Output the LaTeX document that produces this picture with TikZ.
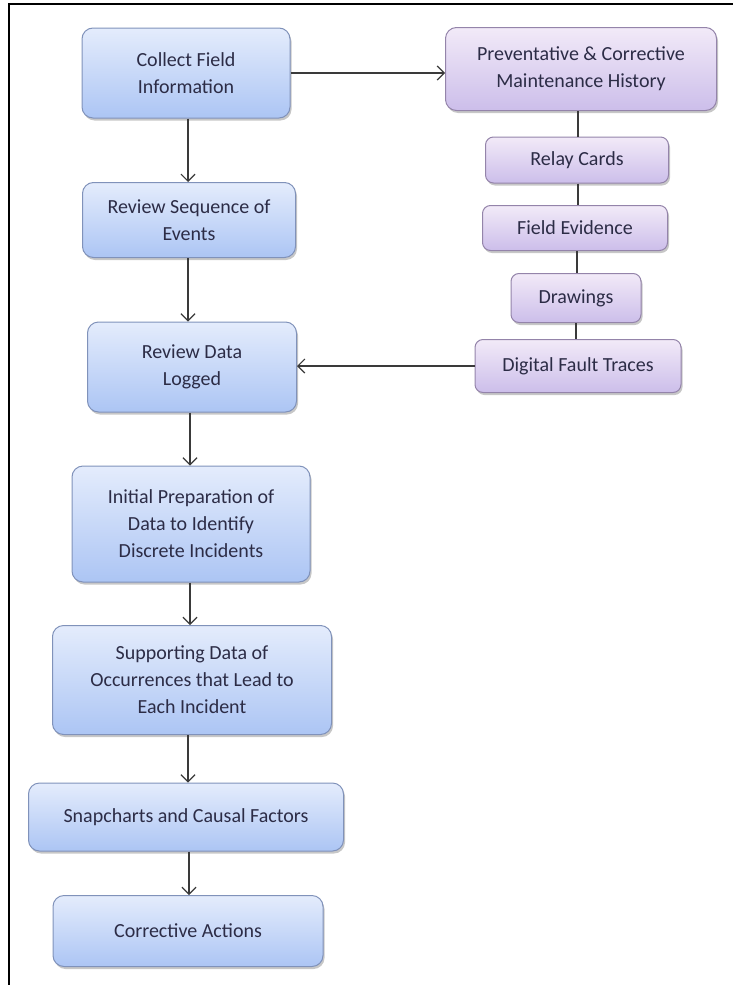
\documentclass[tikz,border=0pt]{standalone}
\usepackage{fontspec}
\setmainfont{Carlito}
\usetikzlibrary{arrows.meta,shadows}

\definecolor{bluetop}{RGB}{228,236,252}
\definecolor{bluebot}{RGB}{172,197,244}
\definecolor{blueline}{RGB}{128,146,186}
\definecolor{purptop}{RGB}{242,234,248}
\definecolor{purpbot}{RGB}{204,190,234}
\definecolor{purpline}{RGB}{148,132,170}
\definecolor{inktext}{RGB}{44,44,70}
\definecolor{wire}{RGB}{58,58,58}

\tikzset{
  box/.style={rounded corners=11pt, inner sep=0pt, align=center,
    font=\fontsize{20}{27}\selectfont, text=inktext, line width=1pt,
    drop shadow={shadow xshift=1.5pt, shadow yshift=-2.5pt, opacity=0.22, fill=black}},
  bluebox/.style={box, draw=blueline, top color=bluetop, bottom color=bluebot},
  purpbox/.style={box, draw=purpline, top color=purptop, bottom color=purpbot},
  smallbox/.style={purpbox, rounded corners=8pt},
  arr/.style={draw=wire, line width=1.2pt,
    -{Straight Barb[length=7pt,width=14pt,line width=1.2pt]}},
  link/.style={draw=wire, line width=1.6pt},
  frame/.style={draw=black, line width=2pt}
}

\begin{document}
\begin{tikzpicture}[x=1pt, y=-1pt]
  \useasboundingbox (0,0) rectangle (733,985);

  % page frame: top and left rules
  \coordinate (ftopright) at (733,4);
  \coordinate (fcorner) at (9,4);
  \coordinate (fbottom) at (9,985);
  \draw[frame] (ftopright) -- (fcorner) -- (fbottom);

  % main sequence
  \node[bluebox, minimum width=208, minimum height=90] (collect) at (186,73) {Collect Field\\Information};
  \node[bluebox, minimum width=213, minimum height=75] (seq) at (189,220) {Review Sequence of\\Events};
  \node[bluebox, minimum width=209, minimum height=90] (logged) at (192,367) {Review Data\\Logged};
  \node[bluebox, minimum width=238, minimum height=116] (prep) at (191,524) {Initial Preparation of\\Data to Identify\\Discrete Incidents};
  \node[bluebox, minimum width=279, minimum height=109] (support) at (192,680) {Supporting Data of\\Occurrences that Lead to\\Each Incident};
  \node[bluebox, minimum width=315, minimum height=68] (snap) at (186,817) {Snapcharts and Causal Factors};
  \node[bluebox, minimum width=270, minimum height=71] (actions) at (188,931) {Corrective Actions};

  % data sources
  \node[purpbox, minimum width=271, minimum height=83] (history) at (581,69) {Preventative \& Corrective\\Maintenance History};
  \node[smallbox, minimum width=183, minimum height=46] (relay) at (577,160) {Relay Cards};
  \node[smallbox, minimum width=185, minimum height=45] (evidence) at (575,228) {Field Evidence};
  \node[smallbox, minimum width=130, minimum height=49] (drawings) at (576,298) {Drawings};
  \node[smallbox, minimum width=206, minimum height=53] (traces) at (578,366) {Digital Fault Traces};

  % flow down the main sequence
  \draw[arr] ([xshift=2pt]collect.south) -- ([xshift=2pt]collect.south |- seq.north);
  \draw[arr] ([xshift=-1pt]seq.south) -- ([xshift=-1pt]seq.south |- logged.north);
  \draw[arr] ([xshift=-2pt]logged.south) -- ([xshift=-2pt]logged.south |- prep.north);
  \draw[arr] ([xshift=-1pt]prep.south) -- ([xshift=-1pt]prep.south |- support.north);
  \draw[arr] ([xshift=-4pt]support.south) -- ([xshift=-4pt]support.south |- snap.north);
  \draw[arr] ([xshift=3pt]snap.south) -- ([xshift=3pt]snap.south |- actions.north);

  % field information feeds the maintenance history
  \draw[arr] (collect.east) -- (collect.east -| history.west);

  % chain of data sources
  \draw[link] ([xshift=-3pt]history.south) -- ([xshift=-3pt]history.south |- relay.north);
  \draw[link] ([xshift=1pt]relay.south) -- ([xshift=1pt]relay.south |- evidence.north);
  \draw[link] ([xshift=2pt]evidence.south) -- ([xshift=2pt]evidence.south |- drawings.north);
  \draw[link] (drawings.south) -- (drawings.south |- traces.north);

  % fault traces return to the data review
  \draw[arr] (traces.west) -- (traces.west -| logged.east);
\end{tikzpicture}
\end{document}
